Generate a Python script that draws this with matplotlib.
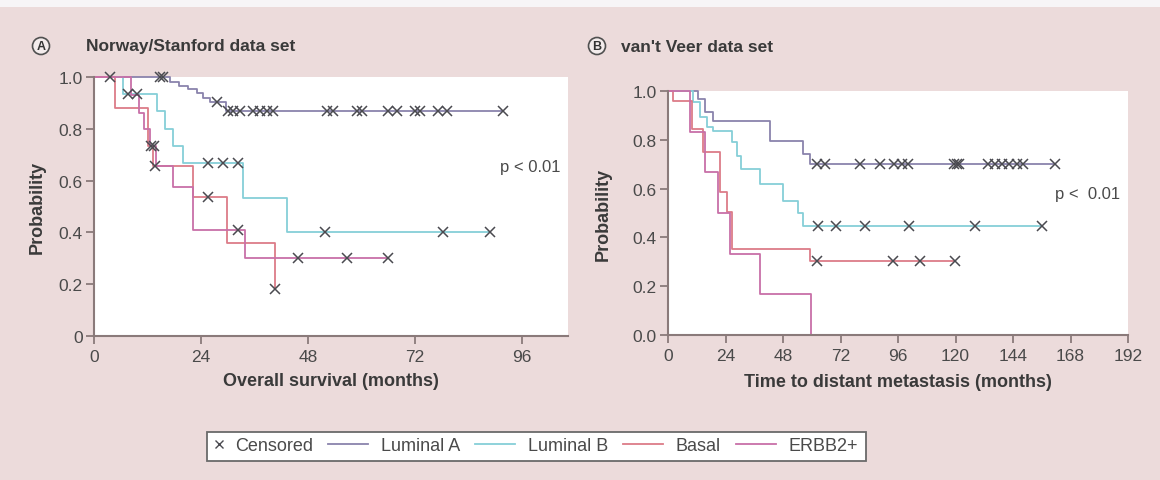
import numpy as np
import matplotlib
matplotlib.use("Agg")
import matplotlib.pyplot as plt
from matplotlib.lines import Line2D
from matplotlib.patches import Rectangle

plt.rcParams['font.family'] = ['Liberation Sans', 'DejaVu Sans']

# ---- panel A: Norway/Stanford, overall survival (months) ----
a_luma_t = [0, 17, 19, 21, 23, 24.5, 26, 29.5]
a_luma_s = [1.0, 0.98, 0.965, 0.955, 0.94, 0.92, 0.905, 0.87]
a_luma_end = 91.7
a_luma_cens = [14.8, 15.5, 27.5, 30.1, 31.2, 32.8, 35.7, 37.2, 38.8, 40.2,
               52.3, 53.6, 59.0, 60.1, 66.0, 68.0, 72.0, 73.1, 77.2, 79.2, 91.7]

a_lumb_t = [0, 6.6, 14.1, 15.9, 17.8, 20.0, 33.4, 43.2]
a_lumb_s = [1.0, 0.933, 0.867, 0.80, 0.733, 0.667, 0.533, 0.40]
a_lumb_end = 88.8
a_lumb_cens = [7.7, 9.6, 25.6, 29.0, 32.3, 51.8, 78.3, 88.8]

a_basal_t = [0, 4.7, 12.2, 13.3, 22.3, 29.8, 40.6]
a_basal_s = [1.0, 0.88, 0.735, 0.655, 0.535, 0.36, 0.18]
a_basal_end = 40.6
a_basal_cens = [3.6, 12.8, 13.7, 25.6, 40.6]

a_erbb_t = [0, 8.4, 10.0, 11.2, 12.6, 14.0, 17.8, 22.3, 33.9]
a_erbb_s = [1.0, 0.93, 0.86, 0.80, 0.735, 0.655, 0.575, 0.41, 0.30]
a_erbb_end = 66.0
a_erbb_cens = [13.4, 32.3, 45.8, 56.7, 66.0]

# ---- panel B: van't Veer, time to distant metastasis (months) ----
b_luma_t = [0, 12.7, 15.4, 18.9, 42.6, 56.5, 59.3]
b_luma_s = [1.0, 0.967, 0.913, 0.878, 0.796, 0.742, 0.70]
b_luma_end = 161.5
b_luma_cens = [62.1, 65.5, 80.1, 88.5, 94.5, 97.5, 100.0, 119.5, 120.5, 121.5,
               133.7, 136.5, 139.5, 142.5, 145.5, 148.3, 161.5]

b_lumb_t = [0, 10.6, 13.4, 16.2, 18.9, 26.6, 28.7, 30.6, 38.4, 48.1, 54.3, 56.5]
b_lumb_s = [1.0, 0.954, 0.892, 0.851, 0.835, 0.79, 0.735, 0.68, 0.619, 0.55, 0.502, 0.448]
b_lumb_end = 156.0
b_lumb_cens = [62.7, 70.1, 82.2, 100.7, 128.1, 156.0]

b_basal_t = [0, 2.2, 9.9, 14.8, 21.7, 24.5, 26.6, 59.3]
b_basal_s = [1.0, 0.96, 0.844, 0.749, 0.585, 0.503, 0.352, 0.305]
b_basal_end = 119.8
b_basal_cens = [62.0, 94.0, 105.2, 119.8]

b_erbb_t = [0, 9.3, 15.4, 20.9, 25.9, 38.4, 59.7]
b_erbb_s = [1.0, 0.833, 0.667, 0.5, 0.333, 0.167, 0.0]
b_erbb_end = 59.7
b_erbb_cens = []

groups = ['Luminal A', 'Luminal B', 'Basal', 'ERBB2+']
colors = ['#8a83ac', '#86cfd8', '#dc7c88', '#c870a8']

BG = '#ecdbdb'
SPINE = '#8a7a7a'
CENS = '#4a4a50'
W, H = 1160, 481


def km(ax, t, s, end, cens, color):
    tt = list(t) + [end]
    ss = list(s) + [s[-1]]
    ax.step(tt, ss, where='post', color=color, lw=1.3, clip_on=False, zorder=2)
    if len(cens):
        idx = np.searchsorted(np.array(t), np.array(cens), side='right') - 1
        ax.plot(cens, np.array(s)[idx], ls='none', marker='x', color=CENS,
                ms=7, mew=1.1, clip_on=False, zorder=3)


def style(ax, xmax, xticks, yticklabels):
    ax.set_facecolor('white')
    for side in ['top', 'right']:
        ax.spines[side].set_visible(False)
    for side in ['left', 'bottom']:
        ax.spines[side].set_color(SPINE)
        ax.spines[side].set_linewidth(1.5)
    ax.set_xlim(0, xmax)
    ax.set_ylim(0, 1.0)
    ax.set_xticks(xticks)
    ax.set_yticks([0, 0.2, 0.4, 0.6, 0.8, 1.0])
    ax.set_yticklabels(yticklabels)
    ax.tick_params(direction='out', length=6, width=1.3, color=SPINE,
                   labelsize=12.5, labelcolor='#4a4a4a')
    ax.tick_params(axis='y', pad=2)


fig = plt.figure(figsize=(W / 100, H / 100), dpi=100, facecolor=BG)
fig.patches.append(Rectangle((0, 1 - 8 / H), 1, 8 / H, transform=fig.transFigure,
                             facecolor='#f7f5f7', edgecolor='none'))

axA = fig.add_axes([94 / W, 1 - 337 / H, 474 / W, 259 / H])
axB = fig.add_axes([668 / W, 1 - 336 / H, 460 / W, 244 / H])

km(axA, a_luma_t, a_luma_s, a_luma_end, a_luma_cens, colors[0])
km(axA, a_lumb_t, a_lumb_s, a_lumb_end, a_lumb_cens, colors[1])
km(axA, a_basal_t, a_basal_s, a_basal_end, a_basal_cens, colors[2])
km(axA, a_erbb_t, a_erbb_s, a_erbb_end, a_erbb_cens, colors[3])
style(axA, 106.3, [0, 24, 48, 72, 96], ['0', '0.2', '0.4', '0.6', '0.8', '1.0'])
axA.text(91, 0.656, 'p < 0.01', fontsize=12, color='#4a4a4a', va='center')

km(axB, b_luma_t, b_luma_s, b_luma_end, b_luma_cens, colors[0])
km(axB, b_lumb_t, b_lumb_s, b_lumb_end, b_lumb_cens, colors[1])
km(axB, b_basal_t, b_basal_s, b_basal_end, b_basal_cens, colors[2])
km(axB, b_erbb_t, b_erbb_s, b_erbb_end, b_erbb_cens, colors[3])
style(axB, 192, [0, 24, 48, 72, 96, 120, 144, 168, 192],
      ['0.0', '0.2', '0.4', '0.6', '0.8', '1.0'])
axB.text(161.5, 0.578, 'p <  0.01', fontsize=12, color='#4a4a4a', va='center')

# labels and titles
lab = dict(fontsize=13, fontweight='bold', color='#3a3a3a', ha='center', va='center')
fig.text(37 / W, 1 - 207 / H, 'Probability', rotation=90, **lab)
fig.text(603 / W, 1 - 214 / H, 'Probability', rotation=90, **lab)
fig.text(331 / W, 1 - 382 / H, 'Overall survival (months)', **lab)
fig.text(898 / W, 1 - 383 / H, 'Time to distant metastasis (months)', **lab)

circ = dict(boxstyle='circle,pad=0.2', facecolor='#f3ecec', edgecolor='#505050', lw=1.2)
fig.text(41 / W, 1 - 47 / H, 'A', fontsize=9, fontweight='bold', color='#333333',
         ha='center', va='center', bbox=circ)
fig.text(86 / W, 1 - 47 / H, 'Norway/Stanford data set', fontsize=12.5,
         fontweight='bold', color='#3a3a3a', ha='left', va='center')
fig.text(597 / W, 1 - 47 / H, 'B', fontsize=9, fontweight='bold', color='#333333',
         ha='center', va='center', bbox=circ)
fig.text(621 / W, 1 - 47 / H, "van't Veer data set", fontsize=12.5,
         fontweight='bold', color='#3a3a3a', ha='left', va='center')

# legend: censored marker + four group lines, inside one white box
ly = 1 - 447 / H
h_cens = Line2D([], [], ls='none', marker='x', color=CENS, ms=6, mew=1)
leg1 = fig.legend([h_cens], ['Censored'], loc='center left',
                  bbox_to_anchor=(212 / W, ly), frameon=False, handlelength=0.8,
                  handletextpad=0.5, fontsize=13, borderpad=0, borderaxespad=0,
                  labelcolor='#4a4a4a')
fig.canvas.draw()
bb1 = leg1.get_window_extent()
h_lines = [Line2D([], [], color=c, lw=1.3) for c in colors]
leg2 = fig.legend(h_lines, groups, loc='center left', ncol=4,
                  bbox_to_anchor=((bb1.x1 + 15) / W, ly), frameon=False,
                  handlelength=2.2, handletextpad=0.7, columnspacing=0.85,
                  fontsize=13, borderpad=0, borderaxespad=0, labelcolor='#4a4a4a')
fig.canvas.draw()
bb2 = leg2.get_window_extent()
fig.patches.append(Rectangle((207 / W, 1 - 462 / H), (bb2.x1 + 8 - 207) / W, 29 / H,
                             transform=fig.transFigure, facecolor='white',
                             edgecolor='#6a6a6a', lw=1.3, zorder=0))

fig.savefig('out.png', dpi=100, facecolor=BG)
